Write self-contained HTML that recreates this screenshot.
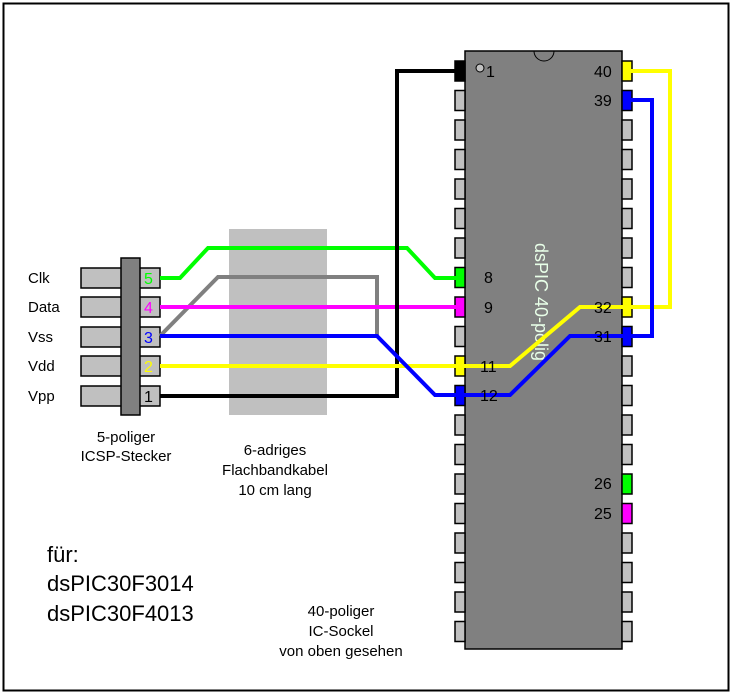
<!DOCTYPE html>
<html><head><meta charset="utf-8"><style>
html,body{margin:0;padding:0;background:#fff;}
svg{display:block;font-family:"Liberation Sans",sans-serif;}
</style></head><body>
<svg width="733" height="695" viewBox="0 0 733 695" xmlns="http://www.w3.org/2000/svg">
<rect x="3.5" y="3.5" width="725" height="687" fill="#fff" stroke="#000" stroke-width="2"/>
<rect x="229" y="229" width="98" height="186" fill="#c0c0c0"/>
<g stroke="#000" stroke-width="1.5" fill="#c0c0c0">
<rect x="81" y="268" width="79" height="20"/>
<rect x="81" y="297" width="79" height="20"/>
<rect x="81" y="327" width="79" height="20"/>
<rect x="81" y="356" width="79" height="20"/>
<rect x="81" y="386" width="79" height="20"/>
<rect x="121" y="258" width="19" height="157" fill="#808080"/>
</g>
<g font-size="16">
<text x="144" y="284" fill="#00ff00">5</text>
<text x="144" y="313" fill="#ff00ff">4</text>
<text x="144" y="343" fill="#0000ff">3</text>
<text x="144" y="372" fill="#ffff00">2</text>
<text x="144" y="402" fill="#000">1</text>
</g>
<g font-size="15">
<text x="28" y="283">Clk</text>
<text x="28" y="312">Data</text>
<text x="28" y="342">Vss</text>
<text x="28" y="371">Vdd</text>
<text x="28" y="401">Vpp</text>
</g>
<rect x="465" y="51" width="157" height="598" fill="#808080" stroke="#000" stroke-width="1.5"/>
<path d="M534,51 A10,10 0 0 0 554,51" fill="none" stroke="#000" stroke-width="1"/>
<circle cx="480" cy="68" r="4" fill="#c0c0c0" stroke="#000" stroke-width="1"/>
<g stroke="#000" stroke-width="1.5" fill="#c0c0c0">
<rect x="455" y="61" width="10" height="20" fill="#000"/>
<rect x="455" y="90.5" width="10" height="20"/>
<rect x="455" y="120" width="10" height="20"/>
<rect x="455" y="149.5" width="10" height="20"/>
<rect x="455" y="179" width="10" height="20"/>
<rect x="455" y="208.5" width="10" height="20"/>
<rect x="455" y="238" width="10" height="20"/>
<rect x="455" y="267.5" width="10" height="20" fill="#00ff00"/>
<rect x="455" y="297" width="10" height="20" fill="#ff00ff"/>
<rect x="455" y="326.5" width="10" height="20"/>
<rect x="455" y="356" width="10" height="20" fill="#ffff00"/>
<rect x="455" y="385.5" width="10" height="20" fill="#0000ff"/>
<rect x="455" y="415" width="10" height="20"/>
<rect x="455" y="444.5" width="10" height="20"/>
<rect x="455" y="474" width="10" height="20"/>
<rect x="455" y="503.5" width="10" height="20"/>
<rect x="455" y="533" width="10" height="20"/>
<rect x="455" y="562.5" width="10" height="20"/>
<rect x="455" y="592" width="10" height="20"/>
<rect x="455" y="621.5" width="10" height="20"/>
<rect x="622" y="61" width="10" height="20" fill="#ffff00"/>
<rect x="622" y="90.5" width="10" height="20" fill="#0000ff"/>
<rect x="622" y="120" width="10" height="20"/>
<rect x="622" y="149.5" width="10" height="20"/>
<rect x="622" y="179" width="10" height="20"/>
<rect x="622" y="208.5" width="10" height="20"/>
<rect x="622" y="238" width="10" height="20"/>
<rect x="622" y="267.5" width="10" height="20"/>
<rect x="622" y="297" width="10" height="20" fill="#ffff00"/>
<rect x="622" y="326.5" width="10" height="20" fill="#0000ff"/>
<rect x="622" y="356" width="10" height="20"/>
<rect x="622" y="385.5" width="10" height="20"/>
<rect x="622" y="415" width="10" height="20"/>
<rect x="622" y="444.5" width="10" height="20"/>
<rect x="622" y="474" width="10" height="20" fill="#00ff00"/>
<rect x="622" y="503.5" width="10" height="20" fill="#ff00ff"/>
<rect x="622" y="533" width="10" height="20"/>
<rect x="622" y="562.5" width="10" height="20"/>
<rect x="622" y="592" width="10" height="20"/>
<rect x="622" y="621.5" width="10" height="20"/>
</g>
<text x="0" y="0" font-size="18" fill="#e8ffe8" transform="translate(535,243) rotate(90)">dsPIC 40-polig</text>
<g fill="none" stroke-width="4" stroke-linejoin="miter">
<polyline points="160,336 218,277 377,277 377,336" stroke="#808080"/>
<polyline points="160,278 180,278 208,248 407,248 435,278 462,278" stroke="#00ff00"/>
<polyline points="160,307 462,307" stroke="#ff00ff"/>
<polyline points="160,396 397,396 397,71 460,71" stroke="#000"/>
<polyline points="160,366 510,366 580,307 628,307" stroke="#ffff00"/>
<polyline points="160,336 377,336 435,395 510,395 570,336 628,336" stroke="#0000ff"/>
<polyline points="628,71 670,71 670,307 628,307" stroke="#ffff00"/>
<polyline points="628,100 652,100 652,336 628,336" stroke="#0000ff"/>
</g>
<g font-size="16" fill="#000">
<text x="486" y="77">1</text>
<text x="484" y="283">8</text>
<text x="484" y="313">9</text>
<text x="480" y="372">11</text>
<text x="480" y="401">12</text>
<text x="594" y="77">40</text>
<text x="594" y="106">39</text>
<text x="594" y="313">32</text>
<text x="594" y="342">31</text>
<text x="594" y="489">26</text>
<text x="594" y="519">25</text>
</g>
<g font-size="15" text-anchor="middle">
<text x="126" y="442">5-poliger</text>
<text x="126" y="461">ICSP-Stecker</text>
<text x="275" y="455">6-adriges</text>
<text x="275" y="475">Flachbandkabel</text>
<text x="275" y="495">10 cm lang</text>
<text x="341" y="616">40-poliger</text>
<text x="341" y="636">IC-Sockel</text>
<text x="341" y="656">von oben gesehen</text>
</g>
<g font-size="22">
<text x="47" y="562">für:</text>
<text x="47" y="591">dsPIC30F3014</text>
<text x="47" y="621">dsPIC30F4013</text>
</g>
</svg>
</body></html>
